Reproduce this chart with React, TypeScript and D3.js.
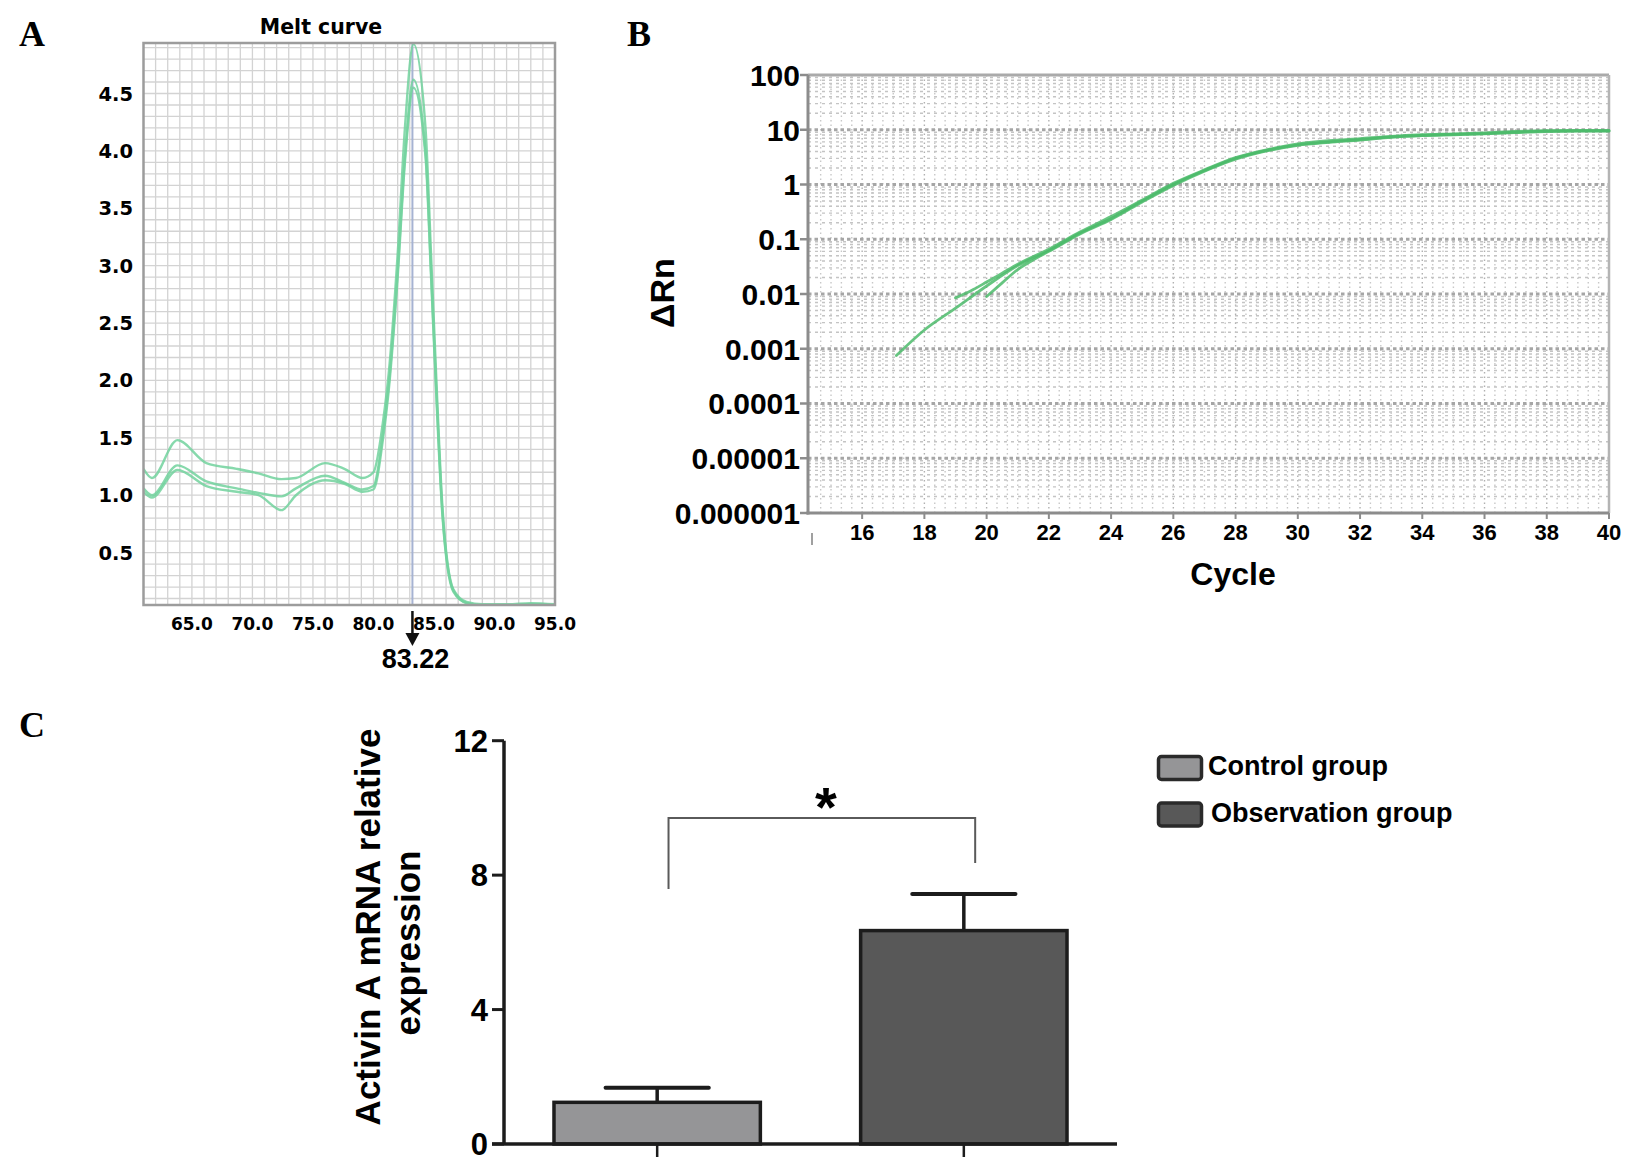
import React, { useEffect, useRef } from 'react';
import * as d3 from 'd3';

// Panel A - melt curve
const meltTemps = [61, 61.7, 63.8, 66.2, 68.7, 70.5, 72.4, 73.6, 76, 77.6, 79.1, 80, 80.8, 81.25, 82, 82.6, 83.3, 84.3, 84.76, 85.2, 85.7, 86.6, 87.7, 89, 91, 93, 95];
const meltUpper = [1.23, 1.15, 1.48, 1.28, 1.23, 1.19, 1.14, 1.15, 1.28, 1.23, 1.15, 1.2, 1.65, 2.05, 3.1, 4.2, 4.93, 4.2, 3.1, 2.0, 0.9, 0.18, 0.07, 0.05, 0.05, 0.06, 0.05];
const meltMiddle = [1.06, 1.0, 1.26, 1.12, 1.06, 1.02, 0.99, 1.06, 1.17, 1.11, 1.05, 1.08, 1.55, 1.95, 2.95, 3.95, 4.62, 4.0, 2.95, 1.9, 0.85, 0.17, 0.06, 0.04, 0.04, 0.05, 0.04];
const meltLower = [1.03, 0.98, 1.22, 1.08, 1.03, 1.0, 0.87, 1.0, 1.13, 1.1, 1.03, 1.05, 1.5, 1.9, 2.9, 3.9, 4.55, 3.95, 2.9, 1.85, 0.82, 0.16, 0.06, 0.04, 0.04, 0.05, 0.04];
const meltXTicks = [65, 70, 75, 80, 85, 90, 95];
const meltYTicks = [0.5, 1, 1.5, 2, 2.5, 3, 3.5, 4, 4.5];
const meltPeak = 83.22;

// Panel B - amplification plot
const ampMainCycles = [17.1, 18, 19, 20, 21, 22, 23, 24, 25, 26, 27, 28, 29, 30, 31, 32, 33, 34, 35, 36, 37, 38, 39, 40];
const ampMainValues = [0.00075, 0.0022, 0.0055, 0.014, 0.033, 0.062, 0.13, 0.24, 0.5, 1.0, 1.8, 3.0, 4.2, 5.3, 6.0, 6.6, 7.4, 7.9, 8.2, 8.5, 9.0, 9.4, 9.5, 9.5];
const ampBranch1Cycles = [19, 19.5, 20, 20.5, 21, 22, 23, 24, 25, 26, 27, 28, 29, 30, 31, 32, 33, 34, 35, 36, 37, 38, 39, 40];
const ampBranch1Values = [0.0085, 0.0115, 0.0165, 0.024, 0.035, 0.066, 0.135, 0.26, 0.52, 1.05, 1.85, 3.1, 4.3, 5.5, 6.3, 6.9, 7.6, 8.1, 8.4, 8.8, 9.3, 9.6, 9.7, 9.7];
const ampBranch2Cycles = [20, 20.5, 21, 21.5, 22, 23, 24, 25, 26, 27, 28, 29, 30, 31, 32, 33, 34, 35, 36, 37, 38, 39, 40];
const ampBranch2Values = [0.009, 0.016, 0.028, 0.042, 0.06, 0.125, 0.23, 0.48, 0.96, 1.75, 2.9, 4.1, 5.2, 5.9, 6.5, 7.3, 7.8, 8.1, 8.4, 8.9, 9.3, 9.4, 9.4];
const ampXTicks = [16, 18, 20, 22, 24, 26, 28, 30, 32, 34, 36, 38, 40];
const ampYTicks = [1e-6, 1e-5, 1e-4, 1e-3, 1e-2, 1e-1, 1, 10, 100];
const ampYLabels = ['0.000001', '0.00001', '0.0001', '0.001', '0.01', '0.1', '1', '10', '100'];

// Panel C - bar chart
const groups = ['Control group', 'Observation group'];
const means = [1.24, 6.35];
const errors = [0.43, 1.09];
const barColors = ['#959597', '#585858'];
const exprTicks = [0, 4, 8, 12];
const bracketLegs = [7.59, 8.36];
const bracketTop = 9.7;

const SANS = '"Liberation Sans", Arial, sans-serif';
const WIDE = '"DejaVu Sans", sans-serif';
const SERIF = '"Liberation Serif", "Times New Roman", serif';

type Sel = d3.Selection<SVGSVGElement, unknown, null, undefined>;

function drawMelt(svg: Sel) {
    const left = 143.5, right = 555, top = 43, bottom = 605;
    const x = d3.scaleLinear().domain([61, 95]).range([left, right]);
    const y = d3.scaleLinear().domain([0, 4.94]).range([610, top]);
    const g = svg.append('g');

    g.append('clipPath').attr('id', 'meltClip')
        .append('rect').attr('x', left).attr('y', top).attr('width', right - left).attr('height', bottom - top);

    // fine grid
    g.selectAll('line.mv').data(d3.range(62, 95)).join('line').attr('class', 'mv')
        .attr('x1', d => x(d)).attr('x2', d => x(d)).attr('y1', top).attr('y2', bottom)
        .attr('stroke', '#d3d3d3').attr('stroke-width', 1.3);
    g.selectAll('line.mh').data(d3.range(1, 50).map(k => k / 10)).join('line').attr('class', 'mh')
        .attr('x1', left).attr('x2', right).attr('y1', d => y(d)).attr('y2', d => y(d))
        .attr('stroke', '#d3d3d3').attr('stroke-width', 1.3);

    // Tm marker
    g.append('line').attr('x1', x(meltPeak)).attr('x2', x(meltPeak)).attr('y1', top).attr('y2', bottom)
        .attr('stroke', '#a6b3d2').attr('stroke-width', 2);

    const line = d3.line<number>()
        .x((_, i) => x(meltTemps[i]))
        .y(d => y(d))
        .curve(d3.curveMonotoneX);
    [meltUpper, meltMiddle, meltLower].forEach(series => {
        g.append('path').attr('d', line(series) as string)
            .attr('fill', 'none').attr('stroke', '#72d29d').attr('stroke-width', 2.4)
            .attr('opacity', 0.85).attr('clip-path', 'url(#meltClip)');
    });

    g.append('rect').attr('x', left).attr('y', top).attr('width', right - left).attr('height', bottom - top)
        .attr('fill', 'none').attr('stroke', '#9c9c9c').attr('stroke-width', 2.5);

    g.append('text').attr('x', 321).attr('y', 34).attr('text-anchor', 'middle')
        .style('font-family', WIDE).style('font-weight', 'bold').style('font-size', '20.5px')
        .text('Melt curve');

    g.selectAll('text.my').data(meltYTicks).join('text').attr('class', 'my')
        .attr('x', 133).attr('y', d => y(d)).attr('dy', '0.36em').attr('text-anchor', 'end')
        .style('font-family', WIDE).style('font-weight', 'bold').style('font-size', '19.5px')
        .text(d => d.toFixed(1));

    g.selectAll('text.mx').data(meltXTicks).join('text').attr('class', 'mx')
        .attr('x', d => x(d)).attr('y', 630).attr('text-anchor', 'middle')
        .style('font-family', WIDE).style('font-weight', 'bold').style('font-size', '17px')
        .text(d => d.toFixed(1));

    // arrow + Tm value
    const px = x(meltPeak);
    g.append('line').attr('x1', px).attr('x2', px).attr('y1', 611).attr('y2', 636)
        .attr('stroke', '#111').attr('stroke-width', 2.5);
    g.append('path').attr('d', `M${px - 7},633 L${px + 7},633 L${px},646 Z`).attr('fill', '#111');
    g.append('text').attr('x', px + 3).attr('y', 668).attr('text-anchor', 'middle')
        .style('font-family', SANS).style('font-weight', 'bold').style('font-size', '27px')
        .text(meltPeak.toFixed(2));
}

function drawAmp(svg: Sel) {
    const left = 808, right = 1609, top = 75, bottom = 513;
    const x = d3.scaleLinear().domain([14.26, 40]).range([left, right]);
    const y = d3.scaleLog().domain([1e-6, 100]).range([bottom, top]);
    const g = svg.append('g');

    // dotted grid
    const vCols = d3.range(-5, 73).map(k => ({ c: 16 + k / 3, major: k % 6 === 0 }))
        .filter(d => d.c > 14.35 && d.c < 39.95);
    g.selectAll('line.av').data(vCols).join('line').attr('class', 'av')
        .attr('x1', d => x(d.c)).attr('x2', d => x(d.c)).attr('y1', top).attr('y2', bottom)
        .attr('stroke', d => d.major ? '#b0b0b0' : '#c8c8c8').attr('stroke-width', 1.4)
        .attr('stroke-dasharray', '1.5,3');
    const hRows: { v: number; major: boolean }[] = [];
    d3.range(-6, 2).forEach(p => d3.range(1, 10).forEach(m => {
        const v = m * Math.pow(10, p);
        if (v > 1.01e-6 && v < 99) hRows.push({ v, major: m === 1 });
    }));
    g.selectAll('line.ah').data(hRows).join('line').attr('class', 'ah')
        .attr('x1', left).attr('x2', right).attr('y1', d => y(d.v)).attr('y2', d => y(d.v))
        .attr('stroke', d => d.major ? '#a6a6a6' : '#c4c4c4')
        .attr('stroke-width', d => d.major ? 2.8 : 1.4)
        .attr('stroke-dasharray', d => d.major ? '3.5,3' : '3,4');

    // frame
    g.append('line').attr('x1', left).attr('x2', right).attr('y1', top).attr('y2', top)
        .attr('stroke', '#aaaaaa').attr('stroke-width', 3);
    g.append('line').attr('x1', right).attr('x2', right).attr('y1', top).attr('y2', bottom)
        .attr('stroke', '#b4b4b4').attr('stroke-width', 2.5);

    // curves
    const line = d3.line<[number, number]>().x(d => x(d[0])).y(d => y(d[1])).curve(d3.curveMonotoneX);
    const series: [number[], number[]][] = [
        [ampMainCycles, ampMainValues],
        [ampBranch1Cycles, ampBranch1Values],
        [ampBranch2Cycles, ampBranch2Values],
    ];
    series.forEach(([cs, vs]) => {
        g.append('path').attr('d', line(cs.map((c, i) => [c, vs[i]] as [number, number])) as string)
            .attr('fill', 'none').attr('stroke', '#4cbb6b').attr('stroke-width', 2.8)
            .attr('stroke-linecap', 'round').attr('opacity', 0.85);
    });

    // axes
    g.append('line').attr('x1', left).attr('x2', left).attr('y1', top).attr('y2', bottom + 1.5)
        .attr('stroke', '#8c8c8c').attr('stroke-width', 3);
    g.append('line').attr('x1', left - 1.5).attr('x2', right).attr('y1', bottom).attr('y2', bottom)
        .attr('stroke', '#8c8c8c').attr('stroke-width', 3);
    g.selectAll('line.ayt').data(ampYTicks).join('line').attr('class', 'ayt')
        .attr('x1', left - 8).attr('x2', left).attr('y1', d => y(d)).attr('y2', d => y(d))
        .attr('stroke', '#8c8c8c').attr('stroke-width', 2.5);
    g.selectAll('text.ay').data(ampYTicks).join('text').attr('class', 'ay')
        .attr('x', left - 8).attr('y', d => y(d)).attr('dy', '0.36em').attr('text-anchor', 'end')
        .style('font-family', SANS).style('font-weight', 'bold').style('font-size', '30px')
        .text((_, i) => ampYLabels[i]);
    g.selectAll('line.axt').data(ampXTicks).join('line').attr('class', 'axt')
        .attr('x1', d => x(d)).attr('x2', d => x(d)).attr('y1', bottom).attr('y2', bottom + 6)
        .attr('stroke', '#8c8c8c').attr('stroke-width', 2);
    g.selectAll('text.ax').data(ampXTicks).join('text').attr('class', 'ax')
        .attr('x', d => x(d)).attr('y', 540).attr('text-anchor', 'middle')
        .style('font-family', SANS).style('font-weight', 'bold').style('font-size', '22px')
        .text(d => d);
    g.append('line').attr('x1', left + 4).attr('x2', left + 4).attr('y1', 533).attr('y2', 545)
        .attr('stroke', '#a0a0a0').attr('stroke-width', 2);

    g.append('text').attr('transform', 'translate(674,293) rotate(-90)').attr('text-anchor', 'middle')
        .style('font-family', SANS).style('font-weight', 'bold').style('font-size', '34px')
        .text('ΔRn');
    g.append('text').attr('x', 1233).attr('y', 585).attr('text-anchor', 'middle')
        .style('font-family', SANS).style('font-weight', 'bold').style('font-size', '32px')
        .text('Cycle');
}

function drawBars(svg: Sel) {
    const x = d3.scaleBand<string>().domain(groups).range([504, 1117]).paddingInner(0.327).paddingOuter(0.163);
    const y = d3.scaleLinear().domain([0, 12]).range([1144, 740.7]);
    const g = svg.append('g');
    const bw = x.bandwidth();
    const cx = (gname: string) => (x(gname) as number) + bw / 2;
    const ink = '#1c1c1c';

    // error bars
    groups.forEach((gname, i) => {
        const top = y(means[i] + errors[i]);
        g.append('line').attr('x1', cx(gname)).attr('x2', cx(gname)).attr('y1', y(means[i])).attr('y2', top)
            .attr('stroke', ink).attr('stroke-width', 3.5);
        g.append('line').attr('x1', cx(gname) - bw / 4).attr('x2', cx(gname) + bw / 4).attr('y1', top).attr('y2', top)
            .attr('stroke', ink).attr('stroke-width', 4).attr('stroke-linecap', 'round');
    });

    g.selectAll('rect.bar').data(groups).join('rect').attr('class', 'bar')
        .attr('x', d => x(d) as number).attr('width', bw)
        .attr('y', (_, i) => y(means[i])).attr('height', (_, i) => y(0) - y(means[i]))
        .attr('fill', (_, i) => barColors[i]).attr('stroke', ink).attr('stroke-width', 3.5);

    // axes
    g.append('line').attr('x1', 504).attr('x2', 504).attr('y1', y(12)).attr('y2', y(0))
        .attr('stroke', ink).attr('stroke-width', 3.5);
    g.append('line').attr('x1', 492).attr('x2', 1117).attr('y1', y(0)).attr('y2', y(0))
        .attr('stroke', ink).attr('stroke-width', 3.5);
    g.selectAll('line.cyt').data(exprTicks).join('line').attr('class', 'cyt')
        .attr('x1', 492).attr('x2', 504).attr('y1', d => y(d)).attr('y2', d => y(d))
        .attr('stroke', ink).attr('stroke-width', 3);
    g.selectAll('text.cy').data(exprTicks).join('text').attr('class', 'cy')
        .attr('x', 488).attr('y', d => y(d)).attr('dy', '0.36em').attr('text-anchor', 'end')
        .style('font-family', SANS).style('font-weight', 'bold').style('font-size', '31px')
        .text(d => d);
    g.selectAll('line.cxt').data(groups).join('line').attr('class', 'cxt')
        .attr('x1', d => cx(d)).attr('x2', d => cx(d)).attr('y1', y(0)).attr('y2', y(0) + 13)
        .attr('stroke', ink).attr('stroke-width', 2.5);

    // significance bracket
    const l1 = cx(groups[0]) + bw * 0.055, l2 = cx(groups[1]) + bw * 0.055;
    g.append('path')
        .attr('d', `M${l1},${y(bracketLegs[0])} V${y(bracketTop)} H${l2} V${y(bracketLegs[1])}`)
        .attr('fill', 'none').attr('stroke', '#5a5a5a').attr('stroke-width', 2);
    g.append('text').attr('x', (l1 + l2) / 2 + 4).attr('y', 826).attr('text-anchor', 'middle')
        .style('font-family', SANS).style('font-weight', 'bold').style('font-size', '56px')
        .text('*');

    // y label
    g.append('text').attr('transform', 'translate(380,927) rotate(-90)').attr('text-anchor', 'middle')
        .style('font-family', SANS).style('font-weight', 'bold').style('font-size', '35px')
        .text('Activin A mRNA relative');
    g.append('text').attr('transform', 'translate(420,943) rotate(-90)').attr('text-anchor', 'middle')
        .style('font-family', SANS).style('font-weight', 'bold').style('font-size', '35px')
        .text('expression');

    // legend
    const lg = g.selectAll('g.leg').data(groups).join('g').attr('class', 'leg')
        .attr('transform', (_, i) => `translate(1157,${755 + i * 46.5})`);
    lg.append('rect').attr('x', 1.5).attr('y', 1.5).attr('width', 43).attr('height', 23).attr('rx', 3)
        .attr('fill', (_, i) => barColors[i]).attr('stroke', '#2a2a2a').attr('stroke-width', 3.5);
    lg.append('text').attr('x', (_, i) => 51 + i * 3).attr('y', 20)
        .style('font-family', SANS).style('font-weight', 'bold').style('font-size', '27px')
        .text(d => d);
}

export default function App() {
    const chartRef = useRef<SVGSVGElement>(null);

    useEffect(() => {
        if (!chartRef.current) return;
        const svg = d3.select(chartRef.current);
        svg.selectAll('*').remove();

        svg.append('rect').attr('width', 1639).attr('height', 1172).attr('fill', '#fff');

        drawMelt(svg);
        drawAmp(svg);
        drawBars(svg);

        // panel letters
        const letters: [string, number, number][] = [['A', 19, 46], ['B', 627, 46], ['C', 19, 737]];
        svg.selectAll('text.panel').data(letters).join('text').attr('class', 'panel')
            .attr('x', d => d[1]).attr('y', d => d[2])
            .style('font-family', SERIF).style('font-weight', 'bold').style('font-size', '36px')
            .text(d => d[0]);
    }, []);

    return (
        <svg ref={chartRef} width={1639} height={1172}
            style={{ position: 'absolute', left: 0, top: 0, display: 'block' }} />
    );
}
